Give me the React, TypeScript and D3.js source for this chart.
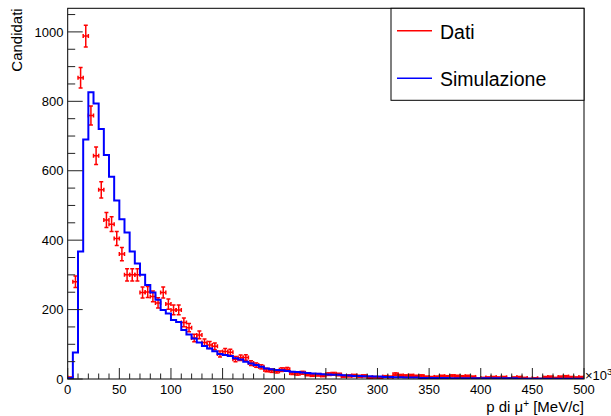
import React from "react";
import * as d3 from "d3";

// Histogram: 100 bins of width 5 between 0 and 500
const binWidth = 5;
const xDomain = [0, 500];
const yMax = 1068;

const dati = [
  4, 280, 868, 988, 759, 643, 545, 458, 446, 405,
  360, 300, 300, 300, 249, 251, 238, 219, 249, 216,
  199, 199, 163, 148, 118, 127, 105, 98, 94, 72,
  79, 77, 57, 61, 62, 46, 40, 35, 26, 24,
  22, 27, 28, 17, 15, 18, 13, 11, 12, 10,
  14, 15, 13, 8, 9, 10, 8, 9, 4, 5,
  3, 7, 6, 14, 10, 9, 10, 8, 9, 6,
  5, 6, 8, 7, 9, 8, 7, 8, 6, 2,
  3, 4, 5, 4, 5, 2, 4, 5, 3, 1,
  2, 1, 5, 6, 3, 6, 7, 5, 4, 5,
];

const simulazione = [
  3, 76, 367, 690, 826, 794, 720, 645, 583, 514,
  460, 422, 367, 333, 300, 271, 249, 228, 199, 189,
  170, 164, 141, 128, 117, 105, 95, 88, 80, 72,
  69, 66, 60, 56, 50, 45, 40, 35, 30, 28,
  26, 25, 23, 21, 20, 19, 17, 16, 15, 14,
  13, 12, 12, 11, 10, 9, 9, 8, 8, 7,
  7, 6, 6, 5, 5, 4, 4, 4, 3, 3,
  3, 3, 3, 3, 2, 2, 2, 2, 2, 2,
  2, 2, 2, 2, 2, 2, 2, 1, 1, 1,
  1, 1, 1, 1, 1, 1, 1, 1, 1, 1,
];

const xMajorTicks = [0, 50, 100, 150, 200, 250, 300, 350, 400, 450, 500];
const yMajorTicks = [0, 200, 400, 600, 800, 1000];
const legendLabels = ["Dati", "Simulazione"];
const colors = ["#ff0000", "#0000ff"];

const W = 611;
const H = 416;
const left = 67.7;
const right = 584;
const top = 8.3;
const bottom = 379;
const FONT = "'Liberation Sans', Arial, Helvetica, sans-serif";

export default function App() {
  const x = d3.scaleLinear().domain(xDomain).range([left, right]);
  const y = d3.scaleLinear().domain([0, yMax]).range([bottom, top]);

  const xMinor = d3.range(0, 501, 10).filter((v) => v % 50 !== 0);
  const yMinor = d3.range(0, yMax, 50).filter((v) => v % 200 !== 0);

  // step outline for simulation
  const stepPts: [number, number][] = [[0, 0]];
  simulazione.forEach((v, i) => {
    stepPts.push([i * binWidth, v]);
    stepPts.push([(i + 1) * binWidth, v]);
  });
  stepPts.push([500, 0]);
  const stepPath = d3
    .line<[number, number]>()
    .x((d) => x(d[0]))
    .y((d) => y(d[1]))(stepPts);

  const cap = 2;

  return (
    <svg
      width={W}
      height={H}
      style={{ position: "fixed", left: 0, top: 0, background: "#fff" }}
      fontFamily={FONT}
    >
      <rect x={0} y={0} width={W} height={H} fill="#fff" />
      <defs>
        <clipPath id="frame">
          <rect x={left} y={top} width={right - left} height={bottom - top} />
        </clipPath>
      </defs>

      {/* Data with errors */}
      <g clipPath="url(#frame)" stroke={colors[0]} strokeWidth={1.5} fill="none">
        {dati.map((v, i) => {
          if (v <= 0) return null;
          const cx = x(i * binWidth + binWidth / 2);
          const x0 = x(i * binWidth);
          const x1 = x((i + 1) * binWidth);
          const cy = y(v);
          const e = Math.sqrt(v);
          const yt = y(v + e);
          const yb = y(Math.max(0, v - e));
          return (
            <g key={i}>
              <line x1={x0} x2={x1} y1={cy} y2={cy} />
              <line x1={cx} x2={cx} y1={yt} y2={yb} />
              <line x1={cx - cap} x2={cx + cap} y1={yt} y2={yt} />
              <line x1={cx - cap} x2={cx + cap} y1={yb} y2={yb} />
              <line x1={x0} x2={x0} y1={cy - cap} y2={cy + cap} />
              <line x1={x1} x2={x1} y1={cy - cap} y2={cy + cap} />
            </g>
          );
        })}
      </g>

      {/* Simulation histogram */}
      <g clipPath="url(#frame)">
        <path d={stepPath || ""} fill="none" stroke={colors[1]} strokeWidth={2} />
      </g>

      {/* Frame */}
      <rect
        x={left}
        y={top}
        width={right - left}
        height={bottom - top}
        fill="none"
        stroke="#000"
        strokeWidth={1}
      />

      {/* X ticks */}
      <g stroke="#222" strokeWidth={1}>
        {xMajorTicks.map((t) => (
          <line key={"xM" + t} x1={x(t)} x2={x(t)} y1={bottom} y2={bottom - 11} />
        ))}
        {xMinor.map((t) => (
          <line key={"xm" + t} x1={x(t)} x2={x(t)} y1={bottom} y2={bottom - 5.5} />
        ))}
        {yMajorTicks.map((t) => (
          <line key={"yM" + t} x1={left} x2={left + 15} y1={y(t)} y2={y(t)} />
        ))}
        {yMinor.map((t) => (
          <line key={"ym" + t} x1={left} x2={left + 7.5} y1={y(t)} y2={y(t)} />
        ))}
      </g>

      {/* X tick labels */}
      <g fontSize={13} fill="#000" textAnchor="middle">
        {xMajorTicks.map((t) => (
          <text key={"xl" + t} x={x(t)} y={394}>
            {t}
          </text>
        ))}
      </g>
      {/* Y tick labels */}
      <g fontSize={13} fill="#000" textAnchor="end">
        {yMajorTicks.map((t) => (
          <text key={"yl" + t} x={63.5} y={y(t) + 4.6}>
            {t}
          </text>
        ))}
      </g>

      {/* x10^3 */}
      <text x={585} y={380} fontSize={13} fill="#000">
        ×10<tspan dy={-5} fontSize={9.5}>3</tspan>
      </text>

      {/* Axis titles */}
      <text x={584} y={411.5} fontSize={15} textAnchor="end" fill="#000">
        p di μ<tspan dy={-5} fontSize={10}>+</tspan>
        <tspan dy={5}> [MeV/c]</tspan>
      </text>
      <text
        transform={`translate(22, ${top}) rotate(-90)`}
        fontSize={15}
        textAnchor="end"
        fill="#000"
      >
        Candidati
      </text>

      {/* Legend */}
      <rect x={391} y={top} width={right - 391} height={92} fill="#fff" stroke="#000" strokeWidth={1} />
      {legendLabels.map((lab, i) => {
        const ly = i === 0 ? 30.7 : 78.3;
        return (
          <g key={lab}>
            <line x1={397} x2={432} y1={ly} y2={ly} stroke={colors[i]} strokeWidth={1.5} />
            <text x={440} y={ly + 7.8} fontSize={19.5} fill="#000">
              {lab}
            </text>
          </g>
        );
      })}
    </svg>
  );
}
